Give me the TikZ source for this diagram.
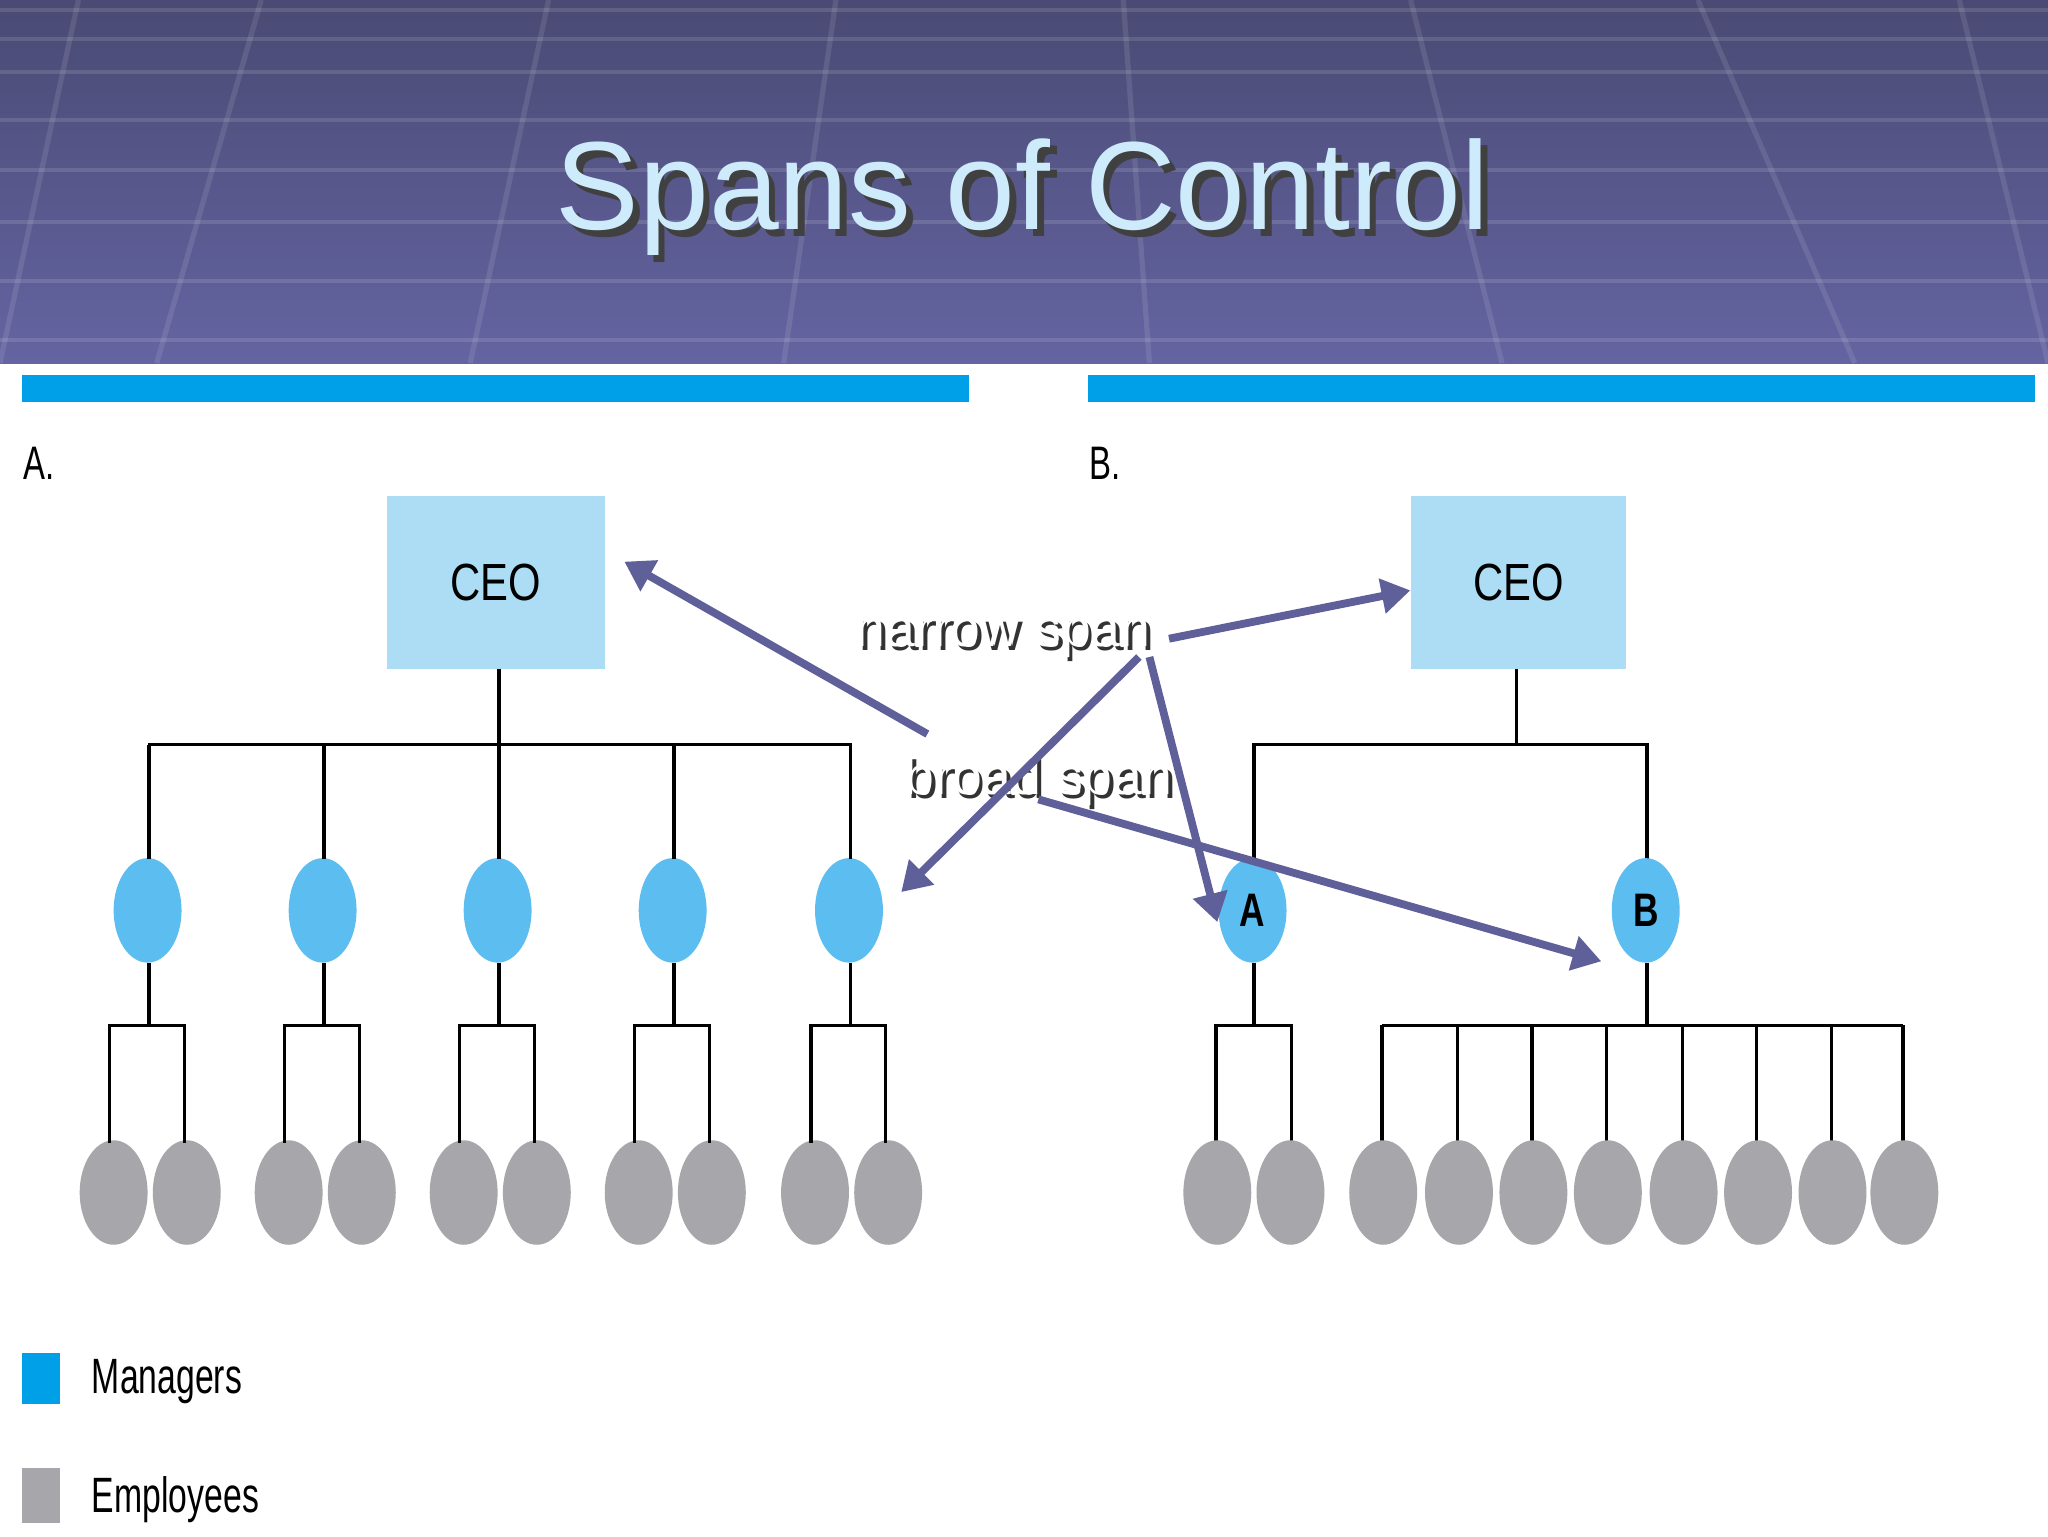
\documentclass[tikz,border=0pt]{standalone}
\usepackage{fontspec}
\setmainfont{Liberation Sans}
\usetikzlibrary{arrows.meta,shapes.geometric}
\definecolor{hdrA}{HTML}{4A4A74}
\definecolor{hdrB}{HTML}{6464A2}
\definecolor{barblue}{HTML}{00A0E8}
\definecolor{ceofill}{HTML}{ADDDF5}
\definecolor{mgr}{HTML}{5BBDF0}
\definecolor{emp}{HTML}{A7A6AA}
\definecolor{arr}{HTML}{5F5F99}
\tikzset{
  ceobox/.style={fill=ceofill,minimum width=167pt,minimum height=132pt,inner sep=0pt,font=\fontsize{40}{40}\selectfont},
  mgrnode/.style={ellipse,fill=mgr,minimum width=52pt,minimum height=80pt,inner sep=0pt,font=\bfseries\fontsize{36}{36}\selectfont},
  empnode/.style={ellipse,fill=emp,minimum width=52pt,minimum height=80pt,inner sep=0pt},
  tree/.style={line width=2.5pt,black},
  bigarrow/.style={line width=6pt,arr,-{Triangle[length=22pt,width=26pt]}},
  spanlbl/.style={font=\fontsize{41}{41}\selectfont,text=white},
  shadowlbl/.style={font=\fontsize{41}{41}\selectfont,text=black!80}
}
\begin{document}
\begin{tikzpicture}[x=1pt,y=-1pt]
\useasboundingbox (0,0) rectangle (1568,1176);
\fill[white] (0,0) rectangle (1568,1176);
% header
\shade[top color=hdrA,bottom color=hdrB] (0,0) rectangle (1568,278);
\foreach \y in {8,30,55,92,130,170,215,260}{
  \draw[white,opacity=0.12,line width=3pt] (0,\y) -- (1568,\y);}
\foreach \x/\xx in {60/0,200/120,420/360,640/600,860/880,1080/1150,1300/1420,1500/1568}{
  \draw[white,opacity=0.1,line width=4pt] (\x,0) -- (\xx,278);}
\node[font=\fontsize{96}{96}\selectfont,text=black!75] at (788,156) {Spans of Control};
\node[font=\fontsize{96}{96}\selectfont,text={rgb,255:red,205;green,235;blue,250}] (title) at (783,151) {Spans of Control};
\fill[barblue] (17,287) rectangle (742,308);
\fill[barblue] (833,287) rectangle (1558,308);
\node[font=\fontsize{36}{36}\selectfont,xscale=0.7] (la) at (30,355) {A.};
\node[font=\fontsize{36}{36}\selectfont,xscale=0.7] (lb) at (846,355) {B.};
% left tree
\node[ceobox] (ceoA) at (379.5,446) {\scalebox{0.8}[1]{CEO}};
\draw[tree] (382,512) -- (382,570);
\draw[tree] (113,570) -- (652,570);
\foreach \i/\x in {1/114,2/248,3/382,4/516,5/651}{
  \node[mgrnode] (mA\i) at (\x-1,697) {};
  \draw[tree] (\x,570) -- (\x,658);
  \node[empnode] (eA\i a) at (\x-27,913) {};
  \node[empnode] (eA\i b) at (\x+29,913) {};
  \draw[tree] (\x,737) -- (\x,785);
  \draw[tree] (\x-30,875) -- (\x-30,785) -- (\x+27,785) -- (\x+27,875);
}
% right tree
\node[ceobox,minimum width=165pt] (ceoB) at (1162.5,446) {\scalebox{0.8}[1]{CEO}};
\draw[tree] (1161,512) -- (1161,570);
\draw[tree] (960,658) -- (960,570) -- (1261,570) -- (1261,658);
\node[mgrnode] (mgA) at (959,697) {\scalebox{0.75}[1]{A}};
\node[mgrnode] (mgB) at (1260,697) {\scalebox{0.75}[1]{B}};
\draw[tree] (960,737) -- (960,785);
\draw[tree] (931,875) -- (931,785) -- (989,785) -- (989,875);
\node[empnode] (eB1) at (932,913) {};
\node[empnode] (eB2) at (988,913) {};
\draw[tree] (1261,737) -- (1261,785);
\draw[tree] (1058,785) -- (1457,785);
\foreach \i/\x in {3/1058,4/1116,5/1173,6/1230,7/1288,8/1345,9/1402,10/1457}{
  \draw[tree] (\x,785) -- (\x,875);
  \node[empnode] (eB\i) at (\x+1,913) {};
}
% labels
\node[shadowlbl] at (771,491) {narrow span};
\node[spanlbl] (narrow) at (768,488) {narrow span};
\node[shadowlbl] at (798,601) {broad span};
\node[spanlbl] (broad) at (795,598) {broad span};
% arrows
\coordinate (n1) at (710,562);
\coordinate (n2) at (872,503);
\coordinate (n3) at (895,489);
\coordinate (n4) at (880,503);
\coordinate (n5) at (795,612);
\draw[bigarrow] (n1) -- (478,430);
\draw[bigarrow] (n2) -- (690,683);
\draw[bigarrow] (n3) -- (ceoB.west |- 0,452);
\draw[bigarrow] (n4) -- (932,706);
\draw[bigarrow] (n5) -- (1226,736);
% legend
\fill[barblue] (17,1036) rectangle (46,1075);
\node[anchor=west,font=\fontsize{38}{38}\selectfont,xscale=0.68] (lm) at (68,1058) {Managers};
\fill[emp] (17,1124) rectangle (46,1166);
\node[anchor=west,font=\fontsize{38}{38}\selectfont,xscale=0.68] (le) at (68,1148) {Employees};
\end{tikzpicture}
\end{document}
